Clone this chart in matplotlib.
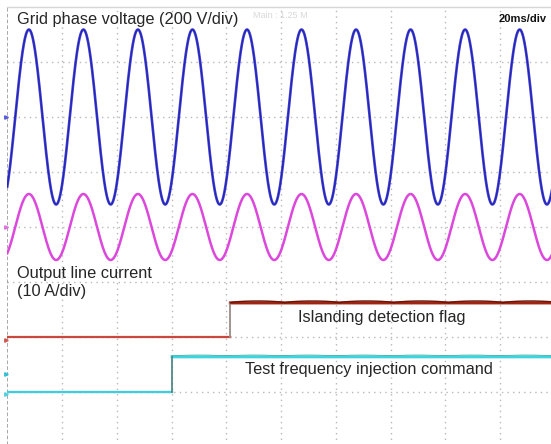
import numpy as np
import matplotlib
matplotlib.use("Agg")
import matplotlib.pyplot as plt

# ---- scope settings ----
time_per_div_ms = 20.0          # horizontal scale
n_xdiv, n_ydiv = 10, 8
volt_per_div = 200.0            # grid voltage channel
amp_per_div = 10.0              # output current channel

# channel ground levels (in divisions from the bottom of the screen)
voltage_ground_div = 6.0
current_ground_div = 4.0
flag_ground_div = 2.0
command_ground_div = 1.0

# ---- measured waveform values ----
grid_freq_hz = 50.2
voltage_peak_v = 318.0
current_peak_a = 6.0
first_peak_ms = 7.9

flag_step_ms = 81.5             # islanding detection flag rises
command_step_ms = 60.2          # test frequency injection command rises
flag_high_div = 0.62
command_high_div = 0.64
flag_ripple_div = 0.035

labels = {
    "voltage": "Grid phase voltage (200 V/div)",
    "current": "Output line current\n(10 A/div)",
    "flag": "Islanding detection flag",
    "command": "Test frequency injection command",
    "timebase": "20ms/div",
    "record": "Main : 1.25 M",
}

W, H = 551, 444
fig = plt.figure(figsize=(W / 100, H / 100), dpi=100)
fig.patch.set_facecolor("white")

# screen area: left edge 7.25 px, 54.75 px per horizontal div, 55 px per vertical div
left_px, top_px = 7.25, 7.0
xdiv_px, ydiv_px = 54.75, 55.0
ax = fig.add_axes([left_px / W,
                   (H - top_px - n_ydiv * ydiv_px) / H,
                   n_xdiv * xdiv_px / W,
                   n_ydiv * ydiv_px / H])
t_max = n_xdiv * time_per_div_ms
ax.set_xlim(0, t_max)
ax.set_ylim(0, n_ydiv)
ax.set_axis_off()

# ---- graticule ----
grid_kw = dict(color="#b8b8b8", lw=1.0, linestyle=(0, (1, 3)), zorder=1)
for i in range(1, n_xdiv):
    ax.axvline(i * time_per_div_ms, **grid_kw)
for j in range(1, n_ydiv):
    ax.axhline(j, **grid_kw)
ax.axvline(0, color="#a0a0a0", lw=1.3, linestyle=(0, (2, 1.2)), zorder=1)
ax.axhline(n_ydiv, color="#d6d6d6", lw=1.0, zorder=1, clip_on=False)

# ---- traces ----
t = np.linspace(0, t_max, 6001)
phase = 2 * np.pi * grid_freq_hz * (t - first_peak_ms) / 1000.0
voltage = voltage_peak_v * np.cos(phase)
current = current_peak_a * np.cos(phase)

ax.plot(t, voltage_ground_div + voltage / volt_per_div,
        color="#3a3ad6", lw=1.9, zorder=4)
ax.plot(t, voltage_ground_div + voltage / volt_per_div,
        color="#1e1e9c", lw=0.5, zorder=5)
ax.plot(t, current_ground_div + current / amp_per_div,
        color="#dc48dc", lw=1.8, zorder=4)

# islanding detection flag
pre = t < flag_step_ms
post = ~pre
ax.plot(t[pre], np.full(pre.sum(), flag_ground_div),
        color="#c9473c", lw=1.6, zorder=4)
ripple = flag_ripple_div * np.abs(np.sin(np.pi * grid_freq_hz * (t[post] - flag_step_ms) / 1000.0)) ** 0.5
ax.plot(t[post], np.full(post.sum(), flag_ground_div + flag_high_div),
        color="#a02412", lw=2.2, zorder=4)
ax.plot(t[post], flag_ground_div + flag_high_div + ripple,
        color="#6a1408", lw=1.0, zorder=5)
ax.plot([flag_step_ms, flag_step_ms],
        [flag_ground_div, flag_ground_div + flag_high_div],
        color="#9a8c84", lw=1.3, zorder=4)

# test frequency injection command
pre = t < command_step_ms
post = ~pre
ax.plot(t[pre], np.full(pre.sum(), command_ground_div),
        color="#45ccdc", lw=1.7, zorder=4)
ax.plot(t[post], np.full(post.sum(), command_ground_div + command_high_div),
        color="#3cd4de", lw=2.2, zorder=4)
ax.plot(t[post], command_ground_div + command_high_div + 0.02
        + 0.4 * flag_ripple_div * np.abs(np.sin(np.pi * grid_freq_hz * (t[post] - command_step_ms) / 1000.0)),
        color="#3a9e90", lw=0.5, alpha=0.8, zorder=5)
ax.plot([command_step_ms, command_step_ms],
        [command_ground_div, command_ground_div + command_high_div],
        color="#4f8a88", lw=1.3, zorder=4)

# channel ground markers on the left edge
marker_x = -0.5
for level, col in [(voltage_ground_div, "#5a5ae0"),
                   (current_ground_div, "#e070e0"),
                   (flag_ground_div - 0.05, "#d05a50"),
                   (command_ground_div + 0.33, "#30c0d8"),
                   (command_ground_div - 0.03, "#50d0e0")]:
    ax.plot([marker_x], [level], marker=">", ms=2.5, color=col,
            clip_on=False, zorder=6)

# ---- annotations ----
font = "Liberation Sans"
def put(x_px, y_px, s, size, color="#262626", **kw):
    fig.text(x_px / W, 1 - y_px / H, s, fontsize=size, color=color,
             family=font, va="baseline", ha="left", **kw)

put(17, 24, labels["voltage"], 11.8)
put(499, 21.5, labels["timebase"], 8.0, color="#111111", fontweight="bold")
put(253, 18, labels["record"], 6.5, color="#d8d8d8")
fig.text(17 / W, 1 - 296 / H, labels["current"], fontsize=11.8,
         color="#262626", family=font, va="baseline", ha="left",
         linespacing=1.25)
put(298, 322, labels["flag"], 11.8)
put(245, 374, labels["command"], 11.8)

fig.savefig("out.png", dpi=100, facecolor="white")
